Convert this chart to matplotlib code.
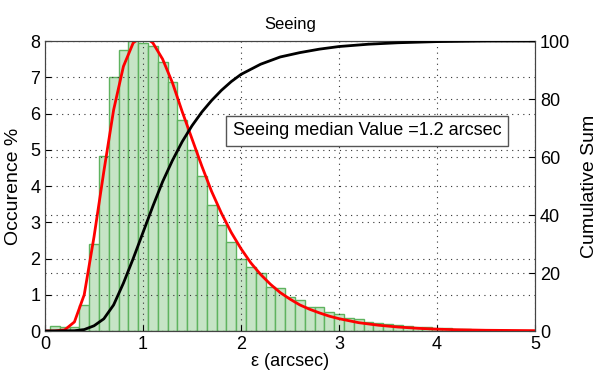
import numpy as np
import matplotlib
matplotlib.use('Agg')
import matplotlib.pyplot as plt

plt.rcParams['font.family'] = ['Liberation Sans', 'DejaVu Sans']

# histogram bins (centres, arcsec) and occurrence in %
bin_centers = [0.1, 0.2, 0.3, 0.4, 0.5, 0.6, 0.7, 0.8, 0.9, 1.0,
               1.1, 1.2, 1.3, 1.4, 1.5, 1.6, 1.7, 1.8, 1.9, 2.0,
               2.1, 2.2, 2.3, 2.4, 2.5, 2.6, 2.7, 2.8, 2.9, 3.0,
               3.1, 3.2, 3.3, 3.4, 3.5, 3.6, 3.7, 3.8, 3.9, 4.0,
               4.1, 4.2, 4.3, 4.4, 4.5, 4.6, 4.7, 4.8, 4.9]
occurrence = [0.15, 0.12, 0.12, 0.72, 2.4, 4.82, 7.0, 7.76, 8.05, 7.94,
              7.85, 7.42, 6.87, 5.81, 5.0, 4.27, 3.47, 2.92, 2.46, 1.98,
              1.77, 1.59, 1.22, 1.18, 0.95, 0.85, 0.67, 0.67, 0.53, 0.48,
              0.37, 0.34, 0.26, 0.22, 0.18, 0.16, 0.14, 0.12, 0.1, 0.08,
              0.07, 0.06, 0.05, 0.04, 0.03, 0.02, 0.02, 0.01, 0.01]

# fitted distribution (red)
fit_x = [0.0, 0.1, 0.2, 0.3, 0.4, 0.5, 0.6, 0.7, 0.8, 0.9, 1.0,
         1.1, 1.2, 1.3, 1.4, 1.5, 1.6, 1.7, 1.8, 1.9, 2.0,
         2.1, 2.2, 2.3, 2.4, 2.5, 2.6, 2.7, 2.8, 2.9, 3.0,
         3.2, 3.4, 3.6, 3.8, 4.0, 4.2, 4.5, 5.0]
fit_y = [0.0, 0.0, 0.03, 0.25, 1.0, 2.6, 4.4, 6.1, 7.3, 7.95, 8.15,
         7.95, 7.5, 6.85, 6.05, 5.3, 4.55, 3.85, 3.25, 2.72, 2.27,
         1.88, 1.56, 1.29, 1.06, 0.88, 0.72, 0.6, 0.5, 0.41, 0.34,
         0.23, 0.16, 0.11, 0.075, 0.05, 0.035, 0.02, 0.01]

# cumulative sum (black, right axis)
cum_x = [0.0, 0.3, 0.4, 0.5, 0.6, 0.7, 0.8, 0.9, 1.0, 1.1, 1.2,
         1.3, 1.4, 1.5, 1.6, 1.7, 1.8, 1.9, 2.0, 2.2, 2.4, 2.6,
         2.8, 3.0, 3.3, 3.6, 4.0, 4.5, 5.0]
cum_y = [0.0, 0.1, 0.5, 1.8, 4.2, 9.0, 16.5, 25.0, 34.0, 43.0, 51.5,
         58.8, 65.3, 70.8, 75.5, 79.5, 83.0, 86.0, 88.5, 92.0, 94.5, 96.0,
         97.2, 98.1, 98.9, 99.4, 99.8, 100.0, 100.0]

median_seeing = 1.2

fig = plt.figure(figsize=(6.02, 3.87), dpi=100)
ax = fig.add_axes([0.0748, 0.1447, 0.8139, 0.7493])

ax.bar(bin_centers, occurrence, width=0.1, color='#c6e4c6',
       edgecolor='#5fb35f', linewidth=1.0, zorder=1)
ax.plot(fit_x, fit_y, color='red', linewidth=2, zorder=3)

ax.set_xlim(0, 5)
ax.set_ylim(0, 8)
ax.set_xticks(range(0, 6))
ax.set_yticks(range(0, 9))
ax.tick_params(direction='in', labelsize=13, length=4)
ax.grid(True, linestyle=(0, (1, 4)), color='#333333', linewidth=0.8)
ax.set_axisbelow(False)
ax.set_xlabel('ε (arcsec)', fontsize=13, labelpad=0)
ax.set_ylabel('Occurence %', fontsize=14, labelpad=6)
ax.set_title('Seeing', fontsize=12, pad=9)

ax2 = ax.twinx()
ax2.plot(cum_x, cum_y, color='black', linewidth=2, zorder=3)
ax2.set_ylim(0, 100)
ax2.set_yticks(range(0, 101, 20))
ax2.tick_params(direction='in', labelsize=13, length=4)
ax2.grid(True, linestyle=(0, (1, 4)), color='#333333', linewidth=0.8)
ax2.set_ylabel('Cumulative Sum', fontsize=14, labelpad=8)

ax2.text(0.657, 0.69, f'Seeing median Value ={median_seeing} arcsec',
         transform=ax2.transAxes, ha='center', va='center', fontsize=13,
         bbox=dict(boxstyle='square,pad=0.35', facecolor='white',
                   edgecolor='#555555', linewidth=1))

for a in (ax, ax2):
    for s in a.spines.values():
        s.set_color('#444444')

fig.savefig('out.png', dpi=100)
